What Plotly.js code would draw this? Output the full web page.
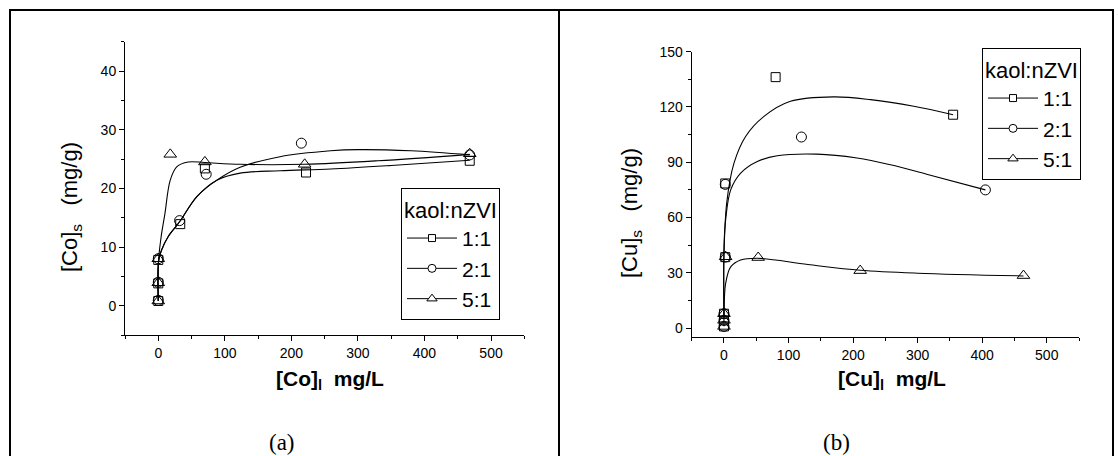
<!DOCTYPE html>
<html>
<head>
<meta charset="utf-8">
<script src="https://cdn.plot.ly/plotly-3.0.1.min.js"></script>
<style>html,body{margin:0;padding:0;background:#fff;}#chart{width:1118px;height:456px;}</style>
</head>
<body>
<div id="chart"></div>
<script>
// ---------- Panel (a): Co ----------
const seriesNames = ['1:1', '2:1', '5:1'];
const legendTitle = 'kaol:nZVI';

const co_x_11 = [0, 0, 0, 33, 70, 222, 468];
const co_y_11 = [0.8, 3.8, 7.8, 13.9, 23.4, 22.7, 24.7];
const co_x_21 = [0, 0, 0, 32, 72, 215, 468];
const co_y_21 = [0.9, 4.0, 8.0, 14.5, 22.4, 27.7, 25.7];
const co_x_51 = [0, 0, 0, 18, 70, 220, 468];
const co_y_51 = [0.8, 3.9, 8.0, 25.8, 24.5, 24.1, 25.9];

// fitted curves
const co_fit_x_11 = [0, 0.5, 5, 15, 32, 58, 88, 123, 183, 259, 350, 468];
const co_fit_y_11 = [0.8, 7.6, 9.5, 11.8, 14.3, 18.6, 21.4, 22.6, 23.0, 23.3, 23.9, 24.8];
const co_fit_x_21 = [0, 0.5, 5, 15, 32, 58, 88, 123, 183, 259, 300, 380, 468];
const co_fit_y_21 = [0.8, 7.6, 9.5, 11.8, 14.3, 18.6, 21.4, 23.6, 25.4, 26.4, 26.6, 26.4, 25.7];
const co_fit_x_51 = [0, 0.5, 4, 10, 18, 28, 45, 70, 123, 220, 330, 468];
const co_fit_y_51 = [0.8, 7.8, 11.5, 15.7, 21.4, 23.7, 24.5, 24.4, 24.1, 24.1, 24.7, 25.8];

// ---------- Panel (b): Cu ----------
const cu_x_11 = [0, 0, 0, 2, 2, 80, 355];
const cu_y_11 = [0.9, 4.2, 7.8, 38.5, 78.5, 136.2, 115.8];
const cu_x_21 = [0, 0, 0, 2, 2, 120, 405];
const cu_y_21 = [0.9, 4.2, 7.8, 38.5, 78.0, 103.7, 75.0];
const cu_x_51 = [0, 0, 0, 2.5, 53, 211, 464];
const cu_y_51 = [0.9, 4.2, 7.8, 38.7, 38.3, 31.2, 28.5];

const cu_fit_x_11 = [0, 0, 4.2, 15.5, 33.5, 62, 103, 170, 227, 294, 355];
const cu_fit_y_11 = [5, 38.7, 67.8, 89.5, 104, 114.9, 123.1, 125.5, 124, 120.4, 115.8];
const cu_fit_x_21 = [0, 0, 2.6, 10.4, 25.8, 51.6, 82.5, 144, 206, 258, 314, 405];
const cu_fit_y_21 = [5, 44, 58.7, 75, 84.1, 90.4, 93.5, 94.4, 92.3, 88.6, 83.5, 75.0];
const cu_fit_x_51 = [0, 0, 2.6, 10.4, 25.8, 51.6, 130, 211, 300, 464];
const cu_fit_y_51 = [1, 7.8, 24.2, 33.2, 36.9, 37.9, 34.5, 31.4, 29.8, 28.3];

// ---------- axis setup ----------
const W = 1118, H = 456;
const px = v => v / W;
const py = v => 1 - v / H;

const FONT = 'Liberation Sans, Arial, sans-serif';
const symbolsOpen = ['square-open', 'circle-open', 'triangle-up-open'];
const symbolsFill = ['square', 'circle', 'triangle-up'];
const sizes = [9, 10, 11];

const traces = [];
function addPanel(xs, ys, fx, fy, xa, ya, leg) {
  for (let i = 0; i < 3; i++) {
    traces.push({
      x: fx[i], y: fy[i], xaxis: xa, yaxis: ya, mode: 'lines', type: 'scatter',
      line: {color: '#000', width: 1.1, shape: 'spline', smoothing: 1},
      showlegend: false, hoverinfo: 'skip'
    });
  }
  for (let i = 0; i < 3; i++) {
    traces.push({
      x: xs[i], y: ys[i], xaxis: xa, yaxis: ya, mode: 'markers', type: 'scatter',
      marker: {symbol: symbolsOpen[i], size: sizes[i], color: '#000', line: {color: '#000', width: 1}},
      showlegend: false, cliponaxis: false
    });
  }
  for (let i = 0; i < 3; i++) {
    traces.push({
      x: [null], y: [null], xaxis: xa, yaxis: ya, mode: 'lines+markers', type: 'scatter',
      name: seriesNames[i], legend: leg,
      line: {color: '#000', width: 1},
      marker: {symbol: symbolsFill[i], size: sizes[i] - 2, color: '#fff', line: {color: '#000', width: 1}}
    });
  }
}
addPanel([co_x_11, co_x_21, co_x_51], [co_y_11, co_y_21, co_y_51],
         [co_fit_x_11, co_fit_x_21, co_fit_x_51], [co_fit_y_11, co_fit_y_21, co_fit_y_51], 'x', 'y', 'legend');
addPanel([cu_x_11, cu_x_21, cu_x_51], [cu_y_11, cu_y_21, cu_y_51],
         [cu_fit_x_11, cu_fit_x_21, cu_fit_x_51], [cu_fit_y_11, cu_fit_y_21, cu_fit_y_51], 'x2', 'y2', 'legend2');

function xAxis(domain, anchor) {
  return {
    domain: domain, anchor: anchor, range: [-50, 550], tick0: 0, dtick: 100,
    showline: true, linecolor: '#000', linewidth: 1, showgrid: false, zeroline: false,
    ticks: 'outside', ticklen: 5, tickwidth: 1, tickcolor: '#000',
    minor: {dtick: 50, ticks: 'outside', ticklen: 3, tickcolor: '#000', showgrid: false},
    tickfont: {family: FONT, size: 14, color: '#000'}, fixedrange: true
  };
}
function yAxis(domain, anchor, range, dtick) {
  return {
    domain: domain, anchor: anchor, range: range, tick0: 0, dtick: dtick,
    showline: true, linecolor: '#000', linewidth: 1, showgrid: false, zeroline: false,
    ticks: 'outside', ticklen: 5, tickwidth: 1, tickcolor: '#000',
    minor: {dtick: dtick / 2, ticks: 'outside', ticklen: 3, tickcolor: '#000', showgrid: false},
    tickfont: {family: FONT, size: 14, color: '#000'}, fixedrange: true
  };
}

function legendCfg(x, y) {
  return {
    x: px(x), y: py(y), xanchor: 'left', yanchor: 'top',
    title: {text: legendTitle, font: {family: FONT, size: 22, color: '#000'}},
    font: {family: FONT, size: 21, color: '#000'},
    bordercolor: '#000', borderwidth: 1, bgcolor: '#fff',
    itemwidth: 50, tracegroupgap: 0, itemclick: false, itemdoubleclick: false
  };
}

const lineShape = (x0, y0, x1, y1) => ({type: 'line', xref: 'paper', yref: 'paper',
  x0: px(x0), y0: py(y0), x1: px(x1), y1: py(y1), line: {color: '#000', width: 2}});

const ann = (text, x, y, opts) => Object.assign({
  text: text, xref: 'paper', yref: 'paper', x: px(x), y: py(y),
  showarrow: false, xanchor: 'center', yanchor: 'middle',
  font: {family: FONT, size: 22, color: '#000'}
}, opts || {});

const layout = {
  width: W, height: H, margin: {l: 0, r: 0, t: 0, b: 0},
  paper_bgcolor: '#fff', plot_bgcolor: 'rgba(0,0,0,0)',
  xaxis: xAxis([px(125), px(524.3)], 'y'),
  yaxis: yAxis([py(335), py(41.7)], 'x', [-5, 45], 10),
  xaxis2: xAxis([px(691.7), px(1079)], 'y2'),
  yaxis2: yAxis([py(337.3), py(51.7)], 'x2', [-5, 150], 30),
  legend: legendCfg(401, 188.3),
  legend2: legendCfg(982, 48.3),
  shapes: [
    lineShape(9, 10, 1114, 10),
    lineShape(10, 9, 10, 460),
    lineShape(559, 9, 559, 460),
    lineShape(1113, 9, 1113, 460)
  ],
  annotations: [
    ann('[Co]<sub>s</sub>&nbsp;&nbsp;&nbsp;(mg/g)', 71, 207, {textangle: -90}),
    ann('[Cu]<sub>s</sub>&nbsp;&nbsp;&nbsp;(mg/g)', 631, 213, {textangle: -90}),
    ann('<b>[Co]<sub>l</sub>&nbsp;&nbsp;mg/L</b>', 330, 380, {font: {family: FONT, size: 21, color: '#000'}}),
    ann('<b>[Cu]<sub>l</sub>&nbsp;&nbsp;mg/L</b>', 892, 380, {font: {family: FONT, size: 21, color: '#000'}}),
    ann('(a)', 282, 442, {font: {family: 'Liberation Serif, Times New Roman, serif', size: 23, color: '#000'}}),
    ann('(b)', 836, 442, {font: {family: 'Liberation Serif, Times New Roman, serif', size: 23, color: '#000'}})
  ]
};

Plotly.newPlot('chart', traces, layout, {displayModeBar: false, staticPlot: true});
</script>
</body>
</html>
